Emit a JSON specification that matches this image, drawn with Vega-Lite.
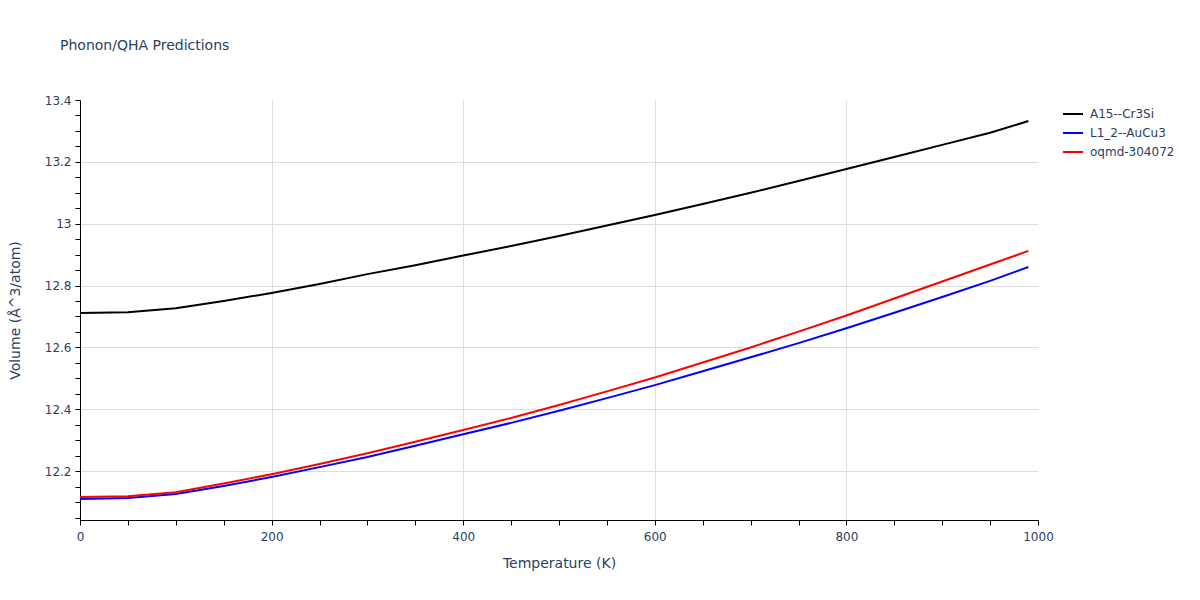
{
  "$schema": "https://vega.github.io/schema/vega-lite/v6.json",
  "width": 958,
  "height": 420,
  "autosize": "none",
  "padding": {"left": 80, "top": 100, "right": 162, "bottom": 80},
  "background": "white",
  "title": {
    "text": "Phonon/QHA Predictions",
    "anchor": "start",
    "frame": "group",
    "dx": -20,
    "offset": 41,
    "font": "DejaVu Sans",
    "fontSize": 14,
    "fontWeight": "normal",
    "color": "#2a3f5f"
  },
  "config": {
    "view": {"stroke": null},
    "font": "DejaVu Sans"
  },
  "data": {
    "values": [
      {"T": 0, "V": 12.711, "s": "A15--Cr3Si"},
      {"T": 50, "V": 12.714, "s": "A15--Cr3Si"},
      {"T": 100, "V": 12.727, "s": "A15--Cr3Si"},
      {"T": 150, "V": 12.750, "s": "A15--Cr3Si"},
      {"T": 200, "V": 12.776, "s": "A15--Cr3Si"},
      {"T": 250, "V": 12.805, "s": "A15--Cr3Si"},
      {"T": 300, "V": 12.837, "s": "A15--Cr3Si"},
      {"T": 350, "V": 12.866, "s": "A15--Cr3Si"},
      {"T": 400, "V": 12.897, "s": "A15--Cr3Si"},
      {"T": 450, "V": 12.928, "s": "A15--Cr3Si"},
      {"T": 500, "V": 12.960, "s": "A15--Cr3Si"},
      {"T": 550, "V": 12.994, "s": "A15--Cr3Si"},
      {"T": 600, "V": 13.028, "s": "A15--Cr3Si"},
      {"T": 650, "V": 13.064, "s": "A15--Cr3Si"},
      {"T": 700, "V": 13.100, "s": "A15--Cr3Si"},
      {"T": 750, "V": 13.138, "s": "A15--Cr3Si"},
      {"T": 800, "V": 13.177, "s": "A15--Cr3Si"},
      {"T": 850, "V": 13.216, "s": "A15--Cr3Si"},
      {"T": 900, "V": 13.255, "s": "A15--Cr3Si"},
      {"T": 950, "V": 13.294, "s": "A15--Cr3Si"},
      {"T": 990, "V": 13.332, "s": "A15--Cr3Si"},
      {"T": 0, "V": 12.110, "s": "L1_2--AuCu3"},
      {"T": 50, "V": 12.113, "s": "L1_2--AuCu3"},
      {"T": 100, "V": 12.126, "s": "L1_2--AuCu3"},
      {"T": 150, "V": 12.152, "s": "L1_2--AuCu3"},
      {"T": 200, "V": 12.181, "s": "L1_2--AuCu3"},
      {"T": 250, "V": 12.213, "s": "L1_2--AuCu3"},
      {"T": 300, "V": 12.246, "s": "L1_2--AuCu3"},
      {"T": 350, "V": 12.282, "s": "L1_2--AuCu3"},
      {"T": 400, "V": 12.319, "s": "L1_2--AuCu3"},
      {"T": 450, "V": 12.356, "s": "L1_2--AuCu3"},
      {"T": 500, "V": 12.395, "s": "L1_2--AuCu3"},
      {"T": 550, "V": 12.436, "s": "L1_2--AuCu3"},
      {"T": 600, "V": 12.478, "s": "L1_2--AuCu3"},
      {"T": 650, "V": 12.523, "s": "L1_2--AuCu3"},
      {"T": 700, "V": 12.568, "s": "L1_2--AuCu3"},
      {"T": 750, "V": 12.614, "s": "L1_2--AuCu3"},
      {"T": 800, "V": 12.662, "s": "L1_2--AuCu3"},
      {"T": 850, "V": 12.712, "s": "L1_2--AuCu3"},
      {"T": 900, "V": 12.763, "s": "L1_2--AuCu3"},
      {"T": 950, "V": 12.815, "s": "L1_2--AuCu3"},
      {"T": 990, "V": 12.860, "s": "L1_2--AuCu3"},
      {"T": 0, "V": 12.116, "s": "oqmd-304072"},
      {"T": 50, "V": 12.119, "s": "oqmd-304072"},
      {"T": 100, "V": 12.132, "s": "oqmd-304072"},
      {"T": 150, "V": 12.160, "s": "oqmd-304072"},
      {"T": 200, "V": 12.190, "s": "oqmd-304072"},
      {"T": 250, "V": 12.223, "s": "oqmd-304072"},
      {"T": 300, "V": 12.258, "s": "oqmd-304072"},
      {"T": 350, "V": 12.295, "s": "oqmd-304072"},
      {"T": 400, "V": 12.333, "s": "oqmd-304072"},
      {"T": 450, "V": 12.372, "s": "oqmd-304072"},
      {"T": 500, "V": 12.414, "s": "oqmd-304072"},
      {"T": 550, "V": 12.458, "s": "oqmd-304072"},
      {"T": 600, "V": 12.503, "s": "oqmd-304072"},
      {"T": 650, "V": 12.551, "s": "oqmd-304072"},
      {"T": 700, "V": 12.600, "s": "oqmd-304072"},
      {"T": 750, "V": 12.651, "s": "oqmd-304072"},
      {"T": 800, "V": 12.703, "s": "oqmd-304072"},
      {"T": 850, "V": 12.758, "s": "oqmd-304072"},
      {"T": 900, "V": 12.813, "s": "oqmd-304072"},
      {"T": 950, "V": 12.868, "s": "oqmd-304072"},
      {"T": 990, "V": 12.912, "s": "oqmd-304072"}
    ]
  },
  "mark": {"type": "line", "strokeWidth": 2},
  "encoding": {
    "x": {
      "field": "T",
      "type": "quantitative",
      "scale": {"domain": [0, 1000], "nice": false, "zero": false},
      "axis": {
        "title": "Temperature (K)",
        "values": [0, 50, 100, 150, 200, 250, 300, 350, 400, 450, 500, 550, 600, 650, 700, 750, 800, 850, 900, 950, 1000],
        "labelExpr": "datum.value % 200 === 0 ? format(datum.value, 'd') : ''",
        "labelFlush": false,
        "gridOpacity": {"expr": "datum.value % 200 === 0 && datum.value > 0 && datum.value < 1000 ? 1 : 0"},
        "gridColor": "#dddddd",
        "domainColor": "#000000",
        "tickColor": "#000000",
        "tickSize": 5,
        "labelFont": "DejaVu Sans",
        "labelFontSize": 12,
        "labelColor": "#2a3f5f",
        "labelPadding": 6,
        "titleFont": "DejaVu Sans",
        "titleFontSize": 14,
        "titleFontWeight": "normal",
        "titleColor": "#2a3f5f",
        "titlePadding": 14
      }
    },
    "y": {
      "field": "V",
      "type": "quantitative",
      "scale": {"domain": [12.042, 13.4], "nice": false, "zero": false},
      "axis": {
        "title": "Volume (Å^3/atom)",
        "values": [12.05, 12.1, 12.15, 12.2, 12.25, 12.3, 12.35, 12.4, 12.45, 12.5, 12.55, 12.6, 12.65, 12.7, 12.75, 12.8, 12.85, 12.9, 12.95, 13.0, 13.05, 13.1, 13.15, 13.2, 13.25, 13.3, 13.35, 13.4],
        "labelExpr": "round(datum.value * 100) % 20 === 0 ? format(datum.value, '.1~f') : ''",
        "labelFlush": false,
        "gridOpacity": {"expr": "round(datum.value * 100) % 20 === 0 && datum.value < 13.39 ? 1 : 0"},
        "gridColor": "#dddddd",
        "domainColor": "#000000",
        "tickColor": "#000000",
        "tickSize": 5,
        "labelFont": "DejaVu Sans",
        "labelFontSize": 12,
        "labelColor": "#2a3f5f",
        "labelPadding": 4,
        "titleFont": "DejaVu Sans",
        "titleFontSize": 14,
        "titleFontWeight": "normal",
        "titleColor": "#2a3f5f",
        "titlePadding": 22
      }
    },
    "color": {
      "field": "s",
      "type": "nominal",
      "scale": {"domain": ["A15--Cr3Si", "L1_2--AuCu3", "oqmd-304072"], "range": ["#000000", "#0000ff", "#ff0000"]},
      "legend": {
        "title": null,
        "orient": "none",
        "legendX": 982,
        "legendY": 3,
        "symbolType": "stroke",
        "symbolStrokeWidth": 2,
        "symbolSize": 400,
        "labelFont": "DejaVu Sans",
        "labelFontSize": 12,
        "labelColor": "#2a3f5f",
        "labelOffset": 6,
        "rowPadding": 2
      }
    }
  }
}
